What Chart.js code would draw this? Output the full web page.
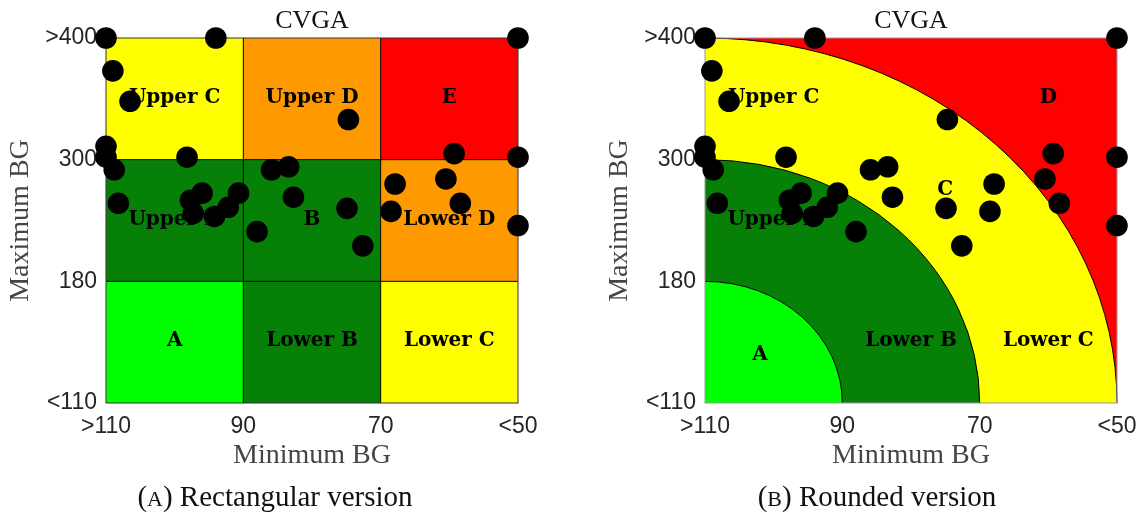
<!DOCTYPE html>
<html>
<head>
<meta charset="utf-8">
<title>CVGA</title>
<script src="https://cdn.jsdelivr.net/npm/chart.js@4.4.1/dist/chart.umd.min.js"></script>
<style>
  html, body { margin: 0; padding: 0; background: #fff; width: 1139px; height: 514px; overflow: hidden; }
  canvas { position: absolute; top: 0; }
  #cvgaRect { left: 0; }
  #cvgaRound { left: 599px; }
</style>
</head>
<body>
<canvas id="cvgaRect" width="570" height="514"></canvas>
<canvas id="cvgaRound" width="560" height="514"></canvas>
<script>
// Per-patient extremes of blood glucose (mg/dL), clipped to the grid limits
const minBG = [110, 94, 50, 109, 106.5, 74.7, 110, 110, 108.8, 98.2,
               59.3, 50, 108.2, 85.9, 83.4, 82.7, 74.9, 72.6, 88.0, 67.9,
               68.5, 60.5, 58.4, 50, 97.7, 96.0, 97.3, 94.2, 92.2, 90.7];
const maxBG = [400, 400, 400, 373, 348, 333, 311, 302, 290, 302,
               305, 302, 257, 290, 293, 263, 252, 215, 229, 276,
               249, 281, 257, 235, 260, 267, 247, 244, 253, 267];

// Zone boundaries along each axis and the tick labels shown at them
const minBGBreaks = [110, 90, 70, 50];
const maxBGBreaks = [110, 180, 300, 400];
const minBGTickLabels = ['>110', '90', '70', '<50'];
const maxBGTickLabels = ['<110', '180', '300', '>400'];

// Zone names of the rectangular grid, bottom row first
const rectZoneNames = [
  ['A', 'Lower B', 'Lower C'],
  ['Upper B', 'B', 'Lower D'],
  ['Upper C', 'Upper D', 'E']
];
// Zone names of the rounded version
const roundZoneNames = ['A', 'Lower B', 'Lower C', 'Upper B', 'C', 'Upper C', 'D'];

// Map a BG value onto the evenly spaced zone axis (one unit per zone)
function bgToAxis(v, breaks) {
  for (let i = 0; i < breaks.length - 1; i++) {
    const a = breaks[i], b = breaks[i + 1];
    if (v >= Math.min(a, b) && v <= Math.max(a, b)) return i + (v - a) / (b - a);
  }
  return Math.abs(v - breaks[0]) < Math.abs(v - breaks[breaks.length - 1]) ? 0 : breaks.length - 1;
}

const points = minBG.map((m, i) => ({ x: bgToAxis(m, minBGBreaks), y: bgToAxis(maxBG[i], maxBGBreaks) }));

const COLORS = { lime: '#00ff00', green: '#068006', yellow: '#ffff00', orange: '#ff9900', red: '#ff0000' };
const rectColors = [
  [COLORS.lime, COLORS.green, COLORS.yellow],
  [COLORS.green, COLORS.green, COLORS.orange],
  [COLORS.yellow, COLORS.orange, COLORS.red]
];
// Label anchors (axis units) for the rounded layout
const roundLabelAt = {
  'A': [0.40, 0.39], 'Lower B': [1.5, 0.5], 'Lower C': [2.5, 0.5],
  'Upper B': [0.5, 1.5], 'C': [1.75, 1.74], 'Upper C': [0.5, 2.5], 'D': [2.5, 2.5]
};

const LABEL_FONT = 'bold 20px "DejaVu Serif"';

const cvgaPlugin = {
  id: 'cvga',
  beforeDatasetsDraw(chart, args, opts) {
    const { ctx, chartArea: ca, scales: { x, y } } = chart;
    const px = v => x.getPixelForValue(v);
    const py = v => y.getPixelForValue(v);
    ctx.save();
    const labels = [];
    if (opts.shape === 'rect') {
      for (let r = 0; r < 3; r++) {
        for (let c = 0; c < 3; c++) {
          ctx.fillStyle = rectColors[r][c];
          ctx.fillRect(px(c), py(r + 1), px(c + 1) - px(c), py(r) - py(r + 1));
          labels.push([rectZoneNames[r][c], c + 0.5, r + 0.5]);
        }
      }
      ctx.strokeStyle = '#000';
      ctx.lineWidth = 1;
      ctx.beginPath();
      for (let k = 1; k < 3; k++) {
        ctx.moveTo(px(k), ca.top); ctx.lineTo(px(k), ca.bottom);
        ctx.moveTo(ca.left, py(k)); ctx.lineTo(ca.right, py(k));
      }
      ctx.stroke();
      ctx.strokeStyle = '#333';
      ctx.strokeRect(ca.left, ca.top, ca.right - ca.left, ca.bottom - ca.top);
    } else {
      ctx.fillStyle = COLORS.red;
      ctx.fillRect(ca.left, ca.top, ca.right - ca.left, ca.bottom - ca.top);
      const cx = px(0), cy = py(0);
      const bands = [[3, COLORS.yellow], [2, COLORS.green], [1, COLORS.lime]];
      ctx.strokeStyle = '#000';
      ctx.lineWidth = 1;
      bands.forEach(([r, col]) => {
        const rx = px(r) - cx, ry = cy - py(r);
        ctx.beginPath();
        ctx.moveTo(cx, cy);
        ctx.ellipse(cx, cy, rx, ry, 0, -Math.PI / 2, 0);
        ctx.closePath();
        ctx.fillStyle = col;
        ctx.fill();
        ctx.beginPath();
        ctx.ellipse(cx, cy, rx, ry, 0, -Math.PI / 2, 0);
        ctx.stroke();
      });
      ctx.strokeStyle = '#999';
      ctx.strokeRect(ca.left, ca.top, ca.right - ca.left, ca.bottom - ca.top);
      roundZoneNames.forEach(n => labels.push([n, roundLabelAt[n][0], roundLabelAt[n][1]]));
    }
    ctx.fillStyle = '#000';
    ctx.font = LABEL_FONT;
    ctx.textAlign = 'center';
    ctx.textBaseline = 'alphabetic';
    labels.forEach(([t, lx, ly]) => ctx.fillText(t, px(lx), py(ly) + 4));
    ctx.restore();
  },
  afterDraw(chart, args, opts) {
    const { ctx, chartArea: ca } = chart;
    ctx.save();
    ctx.fillStyle = '#111';
    ctx.textBaseline = 'alphabetic';
    // heading above the grid
    ctx.textAlign = 'center';
    ctx.font = '26px "Liberation Serif"';
    ctx.fillText('CVGA', (ca.left + ca.right) / 2, 27.5);
    // sub-figure caption with a small-capital letter
    const big = '29px "Liberation Serif"', small = '22px "Liberation Serif"';
    const parts = [['(', big], [opts.letter, small], [') ' + opts.caption, big]];
    let w = 0;
    parts.forEach(([t, f]) => { ctx.font = f; w += ctx.measureText(t).width; });
    let xx = (ca.left + ca.right) / 2 + opts.captionShift - w / 2;
    ctx.textAlign = 'left';
    parts.forEach(([t, f]) => { ctx.font = f; ctx.fillText(t, xx, 506); xx += ctx.measureText(t).width; });
    ctx.restore();
  }
};

function makeChart(id, shape, letter, caption, captionShift, padRight) {
  return new Chart(document.getElementById(id), {
    type: 'scatter',
    data: {
      datasets: [{
        data: points,
        backgroundColor: '#000',
        borderWidth: 0,
        pointRadius: 10.8,
        pointHoverRadius: 10.8,
        clip: false
      }]
    },
    options: {
      responsive: false,
      animation: false,
      devicePixelRatio: 1,
      layout: { padding: { left: 0, right: padRight, top: 38, bottom: 40 } },
      plugins: {
        legend: { display: false },
        tooltip: { enabled: false },
        cvga: { shape, letter, caption, captionShift }
      },
      scales: {
        x: {
          type: 'linear', min: 0, max: 3,
          afterBuildTicks: s => { s.ticks = minBGTickLabels.map((_, i) => ({ value: i })); },
          afterFit: s => { s.height = 71; },
          ticks: {
            callback: v => minBGTickLabels[v],
            font: { family: 'Liberation Sans', size: 23 },
            color: '#262626', padding: 10, maxRotation: 0, autoSkip: false
          },
          grid: { display: false, drawTicks: false },
          border: { display: false },
          title: {
            display: true, text: 'Minimum BG', color: '#454545',
            font: { family: 'Liberation Serif', size: 28 },
            padding: { top: 0, bottom: 2 }
          }
        },
        y: {
          type: 'linear', min: 0, max: 3,
          afterBuildTicks: s => { s.ticks = maxBGTickLabels.map((_, i) => ({ value: i })); },
          afterFit: s => { s.width = 106; },
          ticks: {
            callback: v => maxBGTickLabels[v],
            font: { family: 'Liberation Sans', size: 23 },
            color: '#262626', padding: 9, autoSkip: false
          },
          grid: { display: false, drawTicks: false },
          border: { display: false },
          title: {
            display: true, text: 'Maximum BG', color: '#454545',
            font: { family: 'Liberation Serif', size: 28 },
            padding: { top: 4, bottom: 0 }
          }
        }
      }
    },
    plugins: [cvgaPlugin]
  });
}

makeChart('cvgaRect', 'rect', 'A', 'Rectangular version', -37, 52);
makeChart('cvgaRound', 'round', 'B', 'Rounded version', -34, 42);
</script>
</body>
</html>
